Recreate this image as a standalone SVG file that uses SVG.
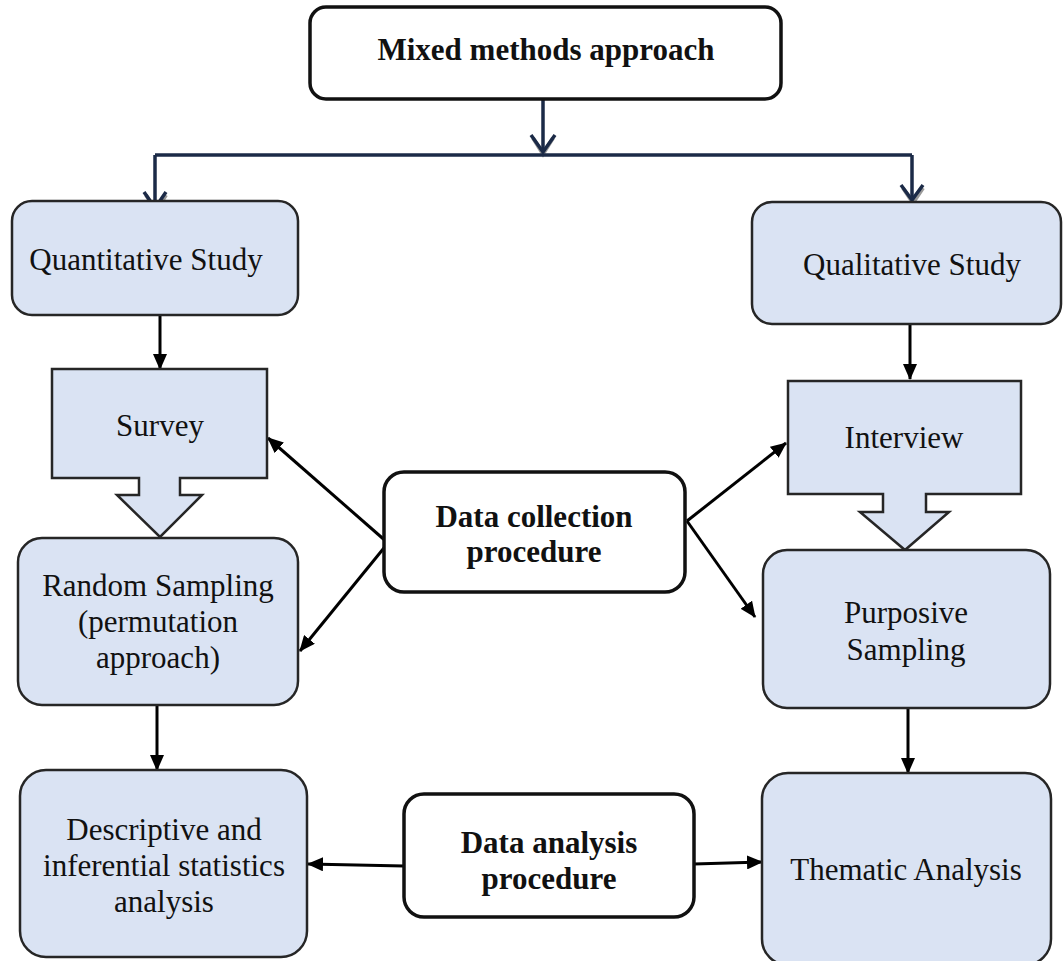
<svg xmlns="http://www.w3.org/2000/svg" width="1063" height="961" viewBox="0 0 1063 961">
  <style>
    .box { fill: #dae3f3; stroke: #262626; stroke-width: 2.5; }
    .wbox { fill: #ffffff; stroke: #111111; stroke-width: 3.5; }
    .txt { font-family: "Liberation Serif", "Times New Roman", serif; font-size: 31px; fill: #111; text-anchor: middle; }
    .bold { font-weight: bold; font-size: 31px; }
    .arr { stroke: #000; stroke-width: 3; fill: none; marker-end: url(#head); }
    .navy { stroke: #1b2a47; stroke-width: 3.5; fill: none; }
  </style>
  <defs>
    <marker id="head" markerUnits="userSpaceOnUse" markerWidth="16" markerHeight="14" refX="15" refY="7" orient="auto">
      <path d="M0,0 L16,7 L0,14 Z" fill="#000"/>
    </marker>
  </defs>

  <rect width="1063" height="961" fill="#ffffff"/>

  <!-- connectors -->
  <g id="connectors">
    <!-- top split -->
    <path class="navy" d="M543,99 V153"/>
    <path d="M533,138 L543,154 L553,138" stroke="#9a9a9a" stroke-width="4" fill="none"/>
    <path class="navy" d="M531,135 L543,152 L555,135"/>
    <path class="navy" d="M155,155 H912"/>
    <path class="navy" d="M155,155 V209"/>
    <path d="M146,195 L156,211 L166,195" stroke="#9a9a9a" stroke-width="4" fill="none"/>
    <path class="navy" d="M144,192 L155,208 L166,192"/>
    <path class="navy" d="M912,155 V201"/>
    <path d="M903,188 L913,203 L923,188" stroke="#9a9a9a" stroke-width="4" fill="none"/>
    <path class="navy" d="M901,185 L912,200 L923,185"/>

    <!-- vertical flow -->
    <path class="arr" d="M160,315 V369"/>
    <path class="arr" d="M910,324 V379"/>
    <path class="arr" d="M157,705 V770"/>
    <path class="arr" d="M908,708 V773"/>

    <!-- data collection links -->
    <path class="arr" d="M388,543 L268,438"/>
    <path class="arr" d="M388,543 L300,651"/>
    <path class="arr" d="M687,521 L786,443"/>
    <path class="arr" d="M687,521 L755,617"/>

    <!-- data analysis links -->
    <path class="arr" d="M404,866 L308,864"/>
    <path class="arr" d="M694,864 L762,862"/>
  </g>

  <g id="mixed">
    <rect class="wbox" x="310" y="7" width="471" height="92" rx="16"/>
    <text class="txt bold" x="546" y="60">Mixed methods approach</text>
  </g>

  <g id="quantitative">
    <rect class="box" x="12" y="201" width="286" height="114" rx="20"/>
    <text class="txt" x="146" y="270">Quantitative Study</text>
  </g>

  <g id="qualitative">
    <rect class="box" x="752" y="202" width="309" height="122" rx="20"/>
    <text class="txt" x="912" y="275">Qualitative Study</text>
  </g>

  <g id="survey">
    <path class="box" d="M52,369 H267 V478 H180 V495 H202 L160,537 L117,495 H139 V478 H52 Z"/>
    <text class="txt" x="160" y="436">Survey</text>
  </g>

  <g id="interview">
    <path class="box" d="M788,381 H1021 V494 H926 V512 H949 L905,550 L860,512 H883 V494 H788 Z"/>
    <text class="txt" x="904" y="448">Interview</text>
  </g>

  <g id="random-sampling">
    <rect class="box" x="18" y="538" width="280" height="167" rx="24"/>
    <text class="txt" x="158" y="596">Random Sampling</text>
    <text class="txt" x="158" y="632">(permutation</text>
    <text class="txt" x="158" y="668">approach)</text>
  </g>

  <g id="purposive-sampling">
    <rect class="box" x="763" y="550" width="287" height="158" rx="24"/>
    <text class="txt" x="906" y="623">Purposive</text>
    <text class="txt" x="906" y="660">Sampling</text>
  </g>

  <g id="data-collection">
    <rect class="wbox" x="384" y="472" width="301" height="120" rx="20"/>
    <text class="txt bold" x="534" y="527">Data collection</text>
    <text class="txt bold" x="534" y="562">procedure</text>
  </g>

  <g id="descriptive">
    <rect class="box" x="20" y="770" width="287" height="187" rx="26"/>
    <text class="txt" x="164" y="840">Descriptive and</text>
    <text class="txt" x="164" y="876">inferential statistics</text>
    <text class="txt" x="164" y="912">analysis</text>
  </g>

  <g id="thematic">
    <rect class="box" x="762" y="773" width="289" height="192" rx="26"/>
    <text class="txt" x="906" y="880">Thematic Analysis</text>
  </g>

  <g id="data-analysis">
    <rect class="wbox" x="404" y="794" width="290" height="123" rx="20"/>
    <text class="txt bold" x="549" y="853">Data analysis</text>
    <text class="txt bold" x="549" y="889">procedure</text>
  </g>
</svg>
